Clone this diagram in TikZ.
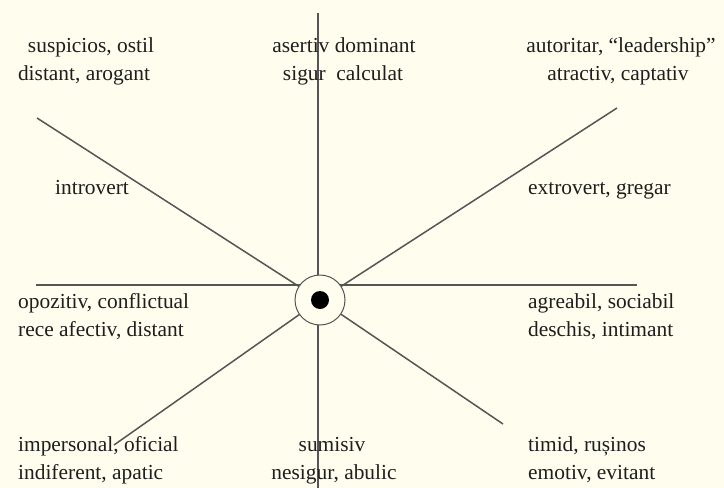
\documentclass[tikz,border=0pt]{standalone}
\usepackage{fontspec}
\setmainfont{Liberation Serif}
\definecolor{bgc}{HTML}{FEFDEE}
\definecolor{linec}{HTML}{555555}
\definecolor{txtc}{HTML}{1E1E1E}
\tikzset{
  axis/.style={draw=linec, line width=1.3pt},
  diag/.style={draw=linec, line width=1.5pt},
  lbl/.style={inner sep=0pt, text=txtc, font=\fontsize{21.4}{28}\selectfont},
  lblw/.style={lbl, anchor=base west},
  lblc/.style={lbl, anchor=base},
}
\begin{document}
\begin{tikzpicture}[x=1pt,y=-1pt]
\fill[bgc] (0,0) rectangle (724,488);
\useasboundingbox (0,0) rectangle (724,488);
% axis end points
\coordinate (ctr) at (320,300);
\coordinate (vt) at (318,13);
\coordinate (vb) at (318,488);
\coordinate (hl) at (36,285);
\coordinate (hr) at (637,285);
\coordinate (ul) at (37,118);
\coordinate (ur) at (617,108);
\coordinate (ll) at (114,445);
\coordinate (lr) at (503,424);
\draw[axis] (vt) -- (vb);
\draw[axis] (hl) -- (hr);
\draw[diag] (ul) -- (ctr);
\draw[diag] (ur) -- (ctr);
\draw[diag] (ll) -- (ctr);
\draw[diag] (lr) -- (ctr);
\node[circle, minimum size=50pt, inner sep=0pt, fill=bgc, draw=linec, line width=1pt] (c) at (ctr) {};
\node[circle, minimum size=18pt, inner sep=0pt, fill=black] (dot) at (ctr) {};
% labels
\node[lblc] (t1a) at (91,52) {suspicios, ostil};
\node[lblc] (t1b) at (84,80) {distant, arogant};
\node[lblc] (t2a) at (344,52) {asertiv dominant};
\node[lblc] (t2b) at (343,80) {sigur~~calculat};
\node[lblc] (t3a) at (621,52) {autoritar, “leadership”};
\node[lblc] (t3b) at (618,80) {atractiv, captativ};
\node[lblw] (m1) at (55,194) {introvert};
\node[lblw] (m2) at (528,194) {extrovert, gregar};
\node[lblw] (h1a) at (18,308) {opozitiv, conflictual};
\node[lblw] (h1b) at (18,336) {rece afectiv, distant};
\node[lblw] (h2a) at (528,308) {agreabil, sociabil};
\node[lblw] (h2b) at (528,336) {deschis, intimant};
\node[lblw] (b1a) at (18,451) {impersonal, oficial};
\node[lblw] (b1b) at (18,479) {indiferent, apatic};
\node[lblc] (b2a) at (332,451) {sumisiv};
\node[lblc] (b2b) at (334,479) {nesigur, abulic};
\node[lblw] (b3a) at (528,451) {timid, rușinos};
\node[lblw] (b3b) at (528,479) {emotiv, evitant};
\end{tikzpicture}
\end{document}
